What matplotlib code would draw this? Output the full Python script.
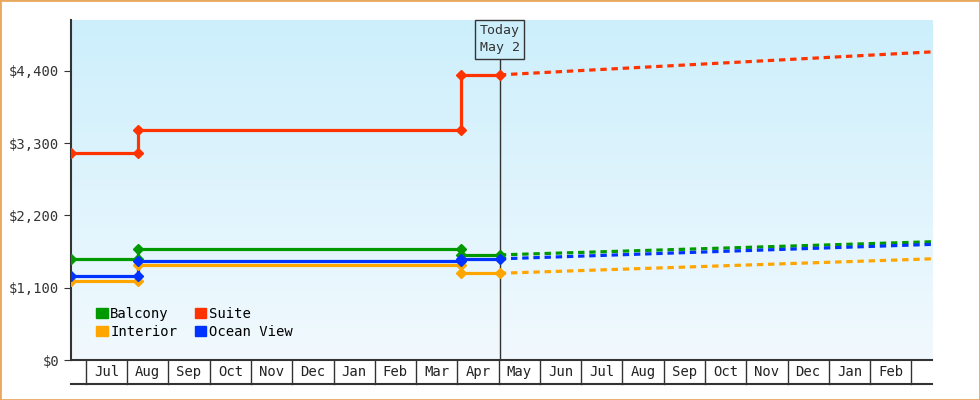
import numpy as np
import matplotlib.pyplot as plt
from matplotlib.patches import Rectangle

# x in months, 0 = start of Jul
months = ["Jul", "Aug", "Sep", "Oct", "Nov", "Dec", "Jan", "Feb", "Mar", "Apr",
          "May", "Jun", "Jul", "Aug", "Sep", "Oct", "Nov", "Dec", "Jan", "Feb"]
x_start, x_end = -0.36, 20.5
today = 10.03

step_x = [-0.36, 1.26, 9.08, today]
suite = [3150, 3500, 4340, 4340]
balcony = [1540, 1690, 1600, 1600]
ocean = [1280, 1510, 1540, 1540]
interior = [1200, 1450, 1320, 1320]
forecast_end = {"Suite": 4690, "Balcony": 1800, "Ocean View": 1760, "Interior": 1540}

series = [("Balcony", balcony, "#009900"), ("Interior", interior, "#ffa500"),
          ("Suite", suite, "#ff3300"), ("Ocean View", ocean, "#0033ff")]

plt.rcParams['font.family'] = ['DejaVu Sans Mono']
fig = plt.figure(figsize=(9.8, 4.0), dpi=100)
fig.patches.append(Rectangle((0, 0), 1, 1, transform=fig.transFigure, fill=False,
                             edgecolor="#e8a860", linewidth=2))
ax = fig.add_axes([71/980, 40/400, 861/980, 340/400])

ax.imshow(np.linspace(0, 1, 100).reshape(-1, 1), extent=[x_start, x_end, 0, 5175],
          aspect="auto", cmap=plt.matplotlib.colors.LinearSegmentedColormap.from_list(
              "bg", ["#cdeffc", "#f1f9fe"]), zorder=0, origin="upper")

for name, vals, col in series:
    xs, ys = [], []
    for i in range(len(step_x) - 1):
        xs += [step_x[i], step_x[i + 1]]
        ys += [vals[i], vals[i]]
    ax.plot(xs, ys, color=col, lw=2.3, zorder=3)
    mx = [step_x[0], step_x[1], step_x[1], step_x[2], step_x[2], today]
    my = [vals[0], vals[0], vals[1], vals[1], vals[2], vals[2]]
    ax.plot(mx, my, "D", color=col, ms=5, zorder=4)
    ax.plot([today, x_end], [vals[-1], forecast_end[name]], color=col, lw=2.3,
            ls=(0, (2, 1.5)), zorder=3)

ax.axvline(today, color="#333333", lw=1, zorder=2)
ax.text(today, 4880, "Today\nMay 2", ha="center", va="center", fontsize=9.5, color="#333333",
        bbox=dict(boxstyle="square,pad=0.35", fc="#cdeffc", ec="#333333"), zorder=5,
        linespacing=1.4)

ax.set_xlim(x_start, x_end)
ax.set_ylim(0, 5175)
ax.set_yticks([0, 1100, 2200, 3300, 4400])
ax.set_yticklabels(["$0", "$1,100", "$2,200", "$3,300", "$4,400"], fontsize=10, color="#333333")
ax.set_xticks([])
for s in ["top", "right", "bottom"]:
    ax.spines[s].set_visible(False)
ax.spines["left"].set_color("#333333")
ax.spines["left"].set_linewidth(1.5)
ax.tick_params(axis="y", length=5, color="#333333")

# month boxes under the axis
tr = ax.get_xaxis_transform()
ax.plot([x_start, x_end], [0, 0], color="#333333", lw=1.5, clip_on=False, transform=tr)
ax.plot([x_start, x_end], [-0.07, -0.07], color="#333333", lw=1.5, clip_on=False, transform=tr)
for i, m in enumerate(months):
    ax.plot([i, i], [0, -0.07], color="#333333", lw=1, clip_on=False, transform=tr)
    ax.text(i + 0.5, -0.035, m, ha="center", va="center", fontsize=10, color="#222222",
            transform=tr)
ax.plot([20, 20], [0, -0.07], color="#333333", lw=1, clip_on=False, transform=tr)

handles = [Rectangle((0, 0), 1, 1, color=c) for _, _, c in series]
ax.legend(handles, [n for n, _, _ in series], ncol=2, loc="lower left", frameon=False,
          fontsize=10, handlelength=0.8, handleheight=0.8, handletextpad=0.2,
          columnspacing=1.3, labelspacing=0.3, bbox_to_anchor=(0.015, 0.025))

fig.savefig("out.png")
